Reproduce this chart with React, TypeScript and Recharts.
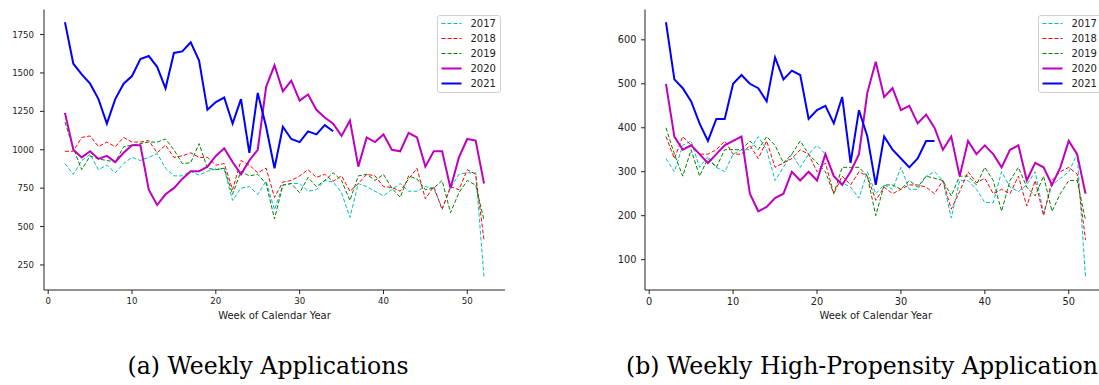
import React from "react";
import { LineChart, Line, XAxis, YAxis, Legend } from "recharts";

// week of calendar year (x axis)
const weeks = [
  2, 3, 4, 5, 6, 7, 8, 9, 10, 11, 12, 13, 14, 15, 16, 17, 18, 19, 20, 21, 22,
  23, 24, 25, 26, 27, 28, 29, 30, 31, 32, 33, 34, 35, 36, 37, 38, 39, 40, 41,
  42, 43, 44, 45, 46, 47, 48, 49, 50, 51, 52,
];
const xTicks = [0, 10, 20, 30, 40, 50];
const years = ["2017", "2018", "2019", "2020", "2021"];

// (a) weekly applications
const apps2017 = [
  910, 840, 930, 970, 870, 900, 850, 910, 950, 930,
  950, 975, 880, 830, 830, 860, 835, 860, 875, 875,
  670, 750, 760, 710, 795, 610, 770, 780, 780, 730,
  740, 800, 790, 720, 560, 780, 760, 730, 700, 740,
  780, 730, 730, 760, 750, 620, 750, 840, 850, 850,
  170,
];
const apps2018 = [
  990, 990, 1080, 1090, 1020, 1050, 1020, 1080, 1050, 1050,
  1060, 980, 1030, 950, 960, 980, 950, 950, 900, 910,
  740, 930, 900, 850, 880, 690, 790, 800, 830, 870,
  820, 840, 795, 830, 730, 780, 840, 830, 760, 755,
  730, 810, 880, 680, 760, 610, 760, 740, 870, 840,
  410,
];
const apps2019 = [
  1180, 1010, 870, 960, 940, 930, 920, 1020, 1030, 1040,
  1050, 1050, 1070, 1000, 910, 915, 1040, 880, 870, 880,
  710, 860, 830, 840, 780, 550, 770, 780, 720, 820,
  760, 800, 850, 800, 670, 830, 840, 800, 840, 750,
  690, 830, 810, 740, 750, 800, 590, 720, 800, 770,
  540,
];
const apps2020 = [
  1240, 1000, 950, 990, 940, 960, 920, 980, 1030, 1030,
  740, 640, 710, 750, 810, 860, 860, 890, 960, 1010,
  920, 840, 930, 1000, 1410, 1550, 1380, 1450, 1320, 1360,
  1260, 1210, 1170, 1090, 1190, 890, 1080, 1050, 1100, 1000,
  990, 1110, 1080, 890, 990, 990, 750, 950, 1070, 1060,
  780,
];
const apps2021 = [
  1830, 1560, 1490, 1430, 1330, 1170, 1330, 1430, 1480, 1590,
  1610, 1540, 1400, 1630, 1640, 1700, 1580, 1260, 1310, 1340,
  1170, 1330, 980, 1370, 1150, 880, 1150, 1070, 1050, 1120,
  1100, 1160, 1120,
];
const appsYTicks = [250, 500, 750, 1000, 1250, 1500, 1750];

// (b) weekly high-propensity applications
const hp2017 = [
  330, 300, 360, 370, 310, 335, 310, 300, 340, 350,
  350, 380, 350, 280, 310, 340, 310, 340, 360, 340,
  290, 275, 265, 240, 300, 250, 270, 260, 310, 260,
  260, 290, 300, 280, 195, 280, 280, 260, 230, 230,
  300, 265, 255, 270, 300, 205, 270, 285, 300, 340,
  60,
];
const hp2018 = [
  380, 330, 380, 360, 340, 340, 350, 370, 340, 340,
  360, 330, 370, 310, 320, 330, 350, 340, 300, 320,
  250, 290, 270, 300, 290, 235, 265, 250, 260, 270,
  270, 265, 250, 280, 215, 255, 300, 275, 285, 250,
  260, 250, 290, 222, 280, 200, 280, 300, 310, 295,
  145,
];
const hp2019 = [
  400, 340, 290, 350, 290, 330, 310, 350, 350, 350,
  370, 350, 380, 360, 320, 340, 370, 340, 320, 300,
  250, 310, 310, 310, 290, 200, 270, 270, 260, 280,
  265, 290, 285, 280, 245, 290, 290, 270, 310, 280,
  210, 280, 310, 265, 245, 290, 210, 250, 280, 280,
  190,
];
const hp2020 = [
  500, 380, 350, 360, 340, 320, 340, 360, 370, 380,
  250, 210, 220, 240, 250, 300, 280, 300, 280, 340,
  290, 270, 300, 340, 480, 550, 470, 490, 440, 450,
  410, 430, 400, 350, 380, 290, 370, 340, 360, 340,
  310, 350, 360, 280, 320, 310, 270, 310, 370, 340,
  250,
];
const hp2021 = [
  640, 510, 490, 460, 410, 370, 420, 420, 500, 520,
  500, 490, 460, 560, 510, 530, 520, 420, 440, 450,
  410, 470, 320, 440, 380, 270, 380, 350, 330, 310,
  330, 370, 370,
];
const hpYTicks = [100, 200, 300, 400, 500, 600];

// line styles per year (matplotlib c, r, g dashed; m, b solid)
const styles = [
  { color: "#00bfbf", width: 1, dash: "4 2" },
  { color: "#ff0000", width: 1, dash: "4 2" },
  { color: "#008000", width: 1, dash: "4 2" },
  { color: "#bf00bf", width: 2, dash: undefined },
  { color: "#0000ff", width: 2, dash: undefined },
];

const buildRows = (series: number[][]) =>
  weeks.map((week, i) => {
    const row: any = { week };
    series.forEach((vals, k) => {
      if (i < vals.length) row["y" + years[k]] = vals[i];
    });
    return row;
  });

const appsRows = buildRows([apps2017, apps2018, apps2019, apps2020, apps2021]);
const hpRows = buildRows([hp2017, hp2018, hp2019, hp2020, hp2021]);

const font = "DejaVu Sans";
const ink = "#222";

const LegendBox = () => (
  <svg width={64} height={78} style={{ display: "block" }}>
    <rect x={0.5} y={0.5} width={63} height={77} rx={2.5} fill="rgba(255,255,255,0.8)" stroke="#d0d0d0" />
    {years.map((y, i) => (
      <g key={y}>
        <line
          x1={4.5}
          x2={24.5}
          y1={8.5 + 15 * i}
          y2={8.5 + 15 * i}
          stroke={styles[i].color}
          strokeWidth={styles[i].width}
          strokeDasharray={styles[i].dash}
        />
        <text x={33.5} y={12.2 + 15 * i} fontSize={10} fontFamily={font} fill={ink}>
          {y}
        </text>
      </g>
    ))}
  </svg>
);

type PanelProps = {
  rows: any[];
  width: number;
  yAxisWidth: number;
  marginRight: number;
  yDomain: [number, number];
  yTicks: number[];
  tickFont: number;
  yTickMargin: number;
  xTickMargin: number;
};

const Panel = ({ rows, width, yAxisWidth, marginRight, yDomain, yTicks, tickFont, yTickMargin, xTickMargin }: PanelProps) => (
  <LineChart width={width} height={325} data={rows} margin={{ top: 9.5, right: marginRight, left: 0, bottom: 5 }}>
    <XAxis
      type="number"
      dataKey="week"
      domain={[-0.5, 54.5]}
      ticks={xTicks}
      interval={0}
      allowDataOverflow
      height={30}
      tickSize={4}
      tickMargin={xTickMargin}
      stroke={ink}
      tick={{ fontSize: tickFont, fill: ink, fontFamily: font }}
      label={{ value: "Week of Calendar Year", position: "insideBottom", offset: 1.5, fontSize: 10, fill: ink, fontFamily: font }}
    />
    <YAxis
      type="number"
      domain={yDomain}
      ticks={yTicks}
      interval={0}
      allowDataOverflow
      width={yAxisWidth}
      tickSize={4}
      tickMargin={yTickMargin}
      stroke={ink}
      tick={{ fontSize: tickFont, fill: ink, fontFamily: font }}
    />
    <Legend
      layout="vertical"
      align="center"
      verticalAlign="middle"
      wrapperStyle={{ left: width - marginRight - 68.5, top: 15, width: 64, height: 78 }}
      content={() => <LegendBox />}
    />
    {years.map((y, i) => (
      <Line
        key={y}
        dataKey={"y" + y}
        name={y}
        type="linear"
        stroke={styles[i].color}
        strokeWidth={styles[i].width}
        strokeDasharray={styles[i].dash}
        dot={false}
        activeDot={false}
        isAnimationActive={false}
      />
    ))}
  </LineChart>
);

const captionStyle: React.CSSProperties = {
  position: "absolute",
  top: 355,
  fontFamily: "DejaVu Serif",
  fontSize: 23.6,
  lineHeight: "23.6px",
  whiteSpace: "nowrap",
  color: "#000",
};

export default function App() {
  return (
    <div style={{ position: "absolute", left: 0, top: 0, width: 1099, height: 385, overflow: "hidden", background: "#fff" }}>
      <div style={{ position: "absolute", left: 0, top: 0 }}>
        <Panel
          rows={appsRows}
          width={520}
          yAxisWidth={44}
          marginRight={15}
          yDomain={[87, 1913]}
          yTicks={appsYTicks}
          tickFont={8.6}
          yTickMargin={6}
          xTickMargin={4}
        />
      </div>
      <div style={{ position: "absolute", left: 600, top: 0 }}>
        <Panel
          rows={hpRows}
          width={530}
          yAxisWidth={45}
          marginRight={23.5}
          yDomain={[31, 669]}
          yTicks={hpYTicks}
          tickFont={9.8}
          yTickMargin={4.5}
          xTickMargin={4}
        />
      </div>
      <div style={{ ...captionStyle, left: 0, width: 536, textAlign: "center" }}>(a) Weekly Applications</div>
      <div style={{ ...captionStyle, left: 626 }}>(b) Weekly High-Propensity Applications</div>
    </div>
  );
}
